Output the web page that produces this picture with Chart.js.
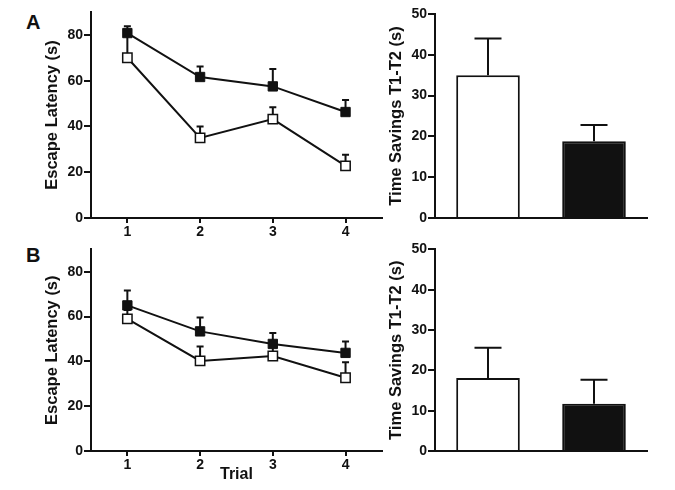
<!DOCTYPE html>
<html>
<head>
<meta charset="utf-8">
<script src="https://cdn.jsdelivr.net/npm/chart.js@4"></script>
<style>
  body { margin: 0; background: #fff; }
  #wrap { position: relative; width: 675px; height: 490px; background: #fff; }
  canvas { position: absolute; }
  .panel-letter { position: absolute; font: bold 20px "Liberation Sans", Arial, sans-serif; line-height: 20px; color: #111; }
</style>
</head>
<body>
<div id="wrap">
  <div class="panel-letter" style="left:26px; top:12px;">A</div>
  <div class="panel-letter" style="left:26px; top:245px;">B</div>
  <canvas id="lineA" width="390" height="240" style="left:0; top:0;"></canvas>
  <canvas id="barA" width="335" height="240" style="left:340px; top:0;"></canvas>
  <canvas id="lineB" width="390" height="250" style="left:0; top:240px;"></canvas>
  <canvas id="barB" width="335" height="250" style="left:340px; top:240px;"></canvas>
</div>
<script>
// data
const trials = [1, 2, 3, 4];
const latencyTicks = [0, 20, 40, 60, 80];
const savingsTicks = [0, 10, 20, 30, 40, 50];
const groups = ["Open", "Filled"];

const latencyA_filled = [80.8, 61.6, 57.5, 46.3];
const latencyA_filledErr = [3, 4.6, 7.6, 5.3];
const latencyA_open = [70, 35, 43.2, 22.8];
const latencyA_openErr = [10, 5, 5.2, 4.8];

const latencyB_filled = [65, 53.4, 47.8, 43.8];
const latencyB_filledErr = [6.7, 6.2, 4.9, 5.1];
const latencyB_open = [59, 40.2, 42.4, 32.7];
const latencyB_openErr = [4, 6.5, 4, 6.9];

const savingsA = [35, 18.8];
const savingsA_err = [9, 4];
const savingsB = [18.1, 11.7];
const savingsB_err = [7.5, 6];

const ink = "#111";
Chart.defaults.font.family = '"Liberation Sans", Arial, sans-serif';
Chart.defaults.font.weight = "bold";
Chart.defaults.color = ink;

// upward error bars, drawn under the markers/bars
const errorBars = {
  id: "errorBars",
  beforeDatasetsDraw(chart, args, opts) {
    const ctx = chart.ctx;
    const yScale = chart.scales.y;
    chart.data.datasets.forEach((ds, i) => {
      if (!ds.errors) return;
      const meta = chart.getDatasetMeta(i);
      ctx.save();
      ctx.strokeStyle = ink;
      ctx.lineWidth = 2;
      meta.data.forEach((el, j) => {
        const raw = ds.data[j];
        const val = typeof raw === "object" ? raw.y : raw;
        const yBase = yScale.getPixelForValue(val);
        const yTop = yScale.getPixelForValue(val + ds.errors[j]);
        const half = opts.capWidth / 2;
        ctx.beginPath();
        ctx.moveTo(el.x, yBase);
        ctx.lineTo(el.x, yTop);
        ctx.moveTo(el.x - half, yTop);
        ctx.lineTo(el.x + half, yTop);
        ctx.stroke();
      });
      ctx.restore();
    });
  }
};

function axisStyle(len) {
  return {
    border: { display: true, color: ink, width: 2 },
    grid: { drawOnChartArea: false, drawTicks: true, tickLength: len, color: ink, lineWidth: 2 }
  };
}

function lineChart(id, filled, filledErr, open, openErr, padTop, xHeight, showTrial) {
  const x = axisStyle(5);
  const y = axisStyle(7);
  new Chart(document.getElementById(id), {
    type: "line",
    data: {
      datasets: [
        {
          label: groups[1],
          data: trials.map((t, i) => ({ x: t, y: filled[i] })),
          errors: filledErr,
          borderColor: ink, borderWidth: 2,
          pointStyle: "rect", pointRadius: 6.6,
          pointBackgroundColor: ink, pointBorderColor: ink, pointBorderWidth: 1
        },
        {
          label: groups[0],
          data: trials.map((t, i) => ({ x: t, y: open[i] })),
          errors: openErr,
          borderColor: ink, borderWidth: 2,
          pointStyle: "rect", pointRadius: 6.6,
          pointBackgroundColor: "#fff", pointBorderColor: ink, pointBorderWidth: 1.5
        }
      ]
    },
    options: {
      responsive: false,
      animation: false,
      layout: { padding: { left: 35, top: padTop, right: 8, bottom: 0 } },
      plugins: { legend: { display: false }, tooltip: { enabled: false }, errorBars: { capWidth: 7 } },
      scales: {
        x: Object.assign(x, {
          type: "linear", min: 0.5, max: 4.5,
          afterBuildTicks: s => { s.ticks = trials.map(v => ({ value: v })); },
          afterFit: s => { s.height = xHeight; },
          ticks: { font: { size: 14 }, padding: 1 },
          title: { display: showTrial, text: "Trial", font: { size: 16 }, padding: { top: 0, bottom: 6 } }
        }),
        y: Object.assign(y, {
          min: 0, max: 90,
          afterBuildTicks: s => { s.ticks = latencyTicks.map(v => ({ value: v })); },
          afterFit: s => { s.width = 56; },
          ticks: { font: { size: 14 }, padding: 1 },
          title: { display: true, text: "Escape Latency (s)", font: { size: 16.5 }, padding: { top: 8, bottom: 0 } }
        })
      }
    },
    plugins: [errorBars]
  });
}

function barChart(id, values, errs, padTop, xHeight) {
  const y = axisStyle(7);
  new Chart(document.getElementById(id), {
    type: "bar",
    data: {
      labels: groups,
      datasets: [{
        data: values,
        errors: errs,
        backgroundColor: ["#fff", ink],
        borderColor: ink,
        borderWidth: 2,
        categoryPercentage: 1,
        barPercentage: 0.6
      }]
    },
    options: {
      responsive: false,
      animation: false,
      layout: { padding: { left: 39, top: padTop, right: 28, bottom: 0 } },
      plugins: { legend: { display: false }, tooltip: { enabled: false }, errorBars: { capWidth: 27 } },
      scales: {
        x: {
          border: { display: true, color: ink, width: 2 },
          grid: { display: false },
          ticks: { display: false },
          afterFit: s => { s.height = xHeight; }
        },
        y: Object.assign(y, {
          min: 0, max: 50,
          afterBuildTicks: s => { s.ticks = savingsTicks.map(v => ({ value: v })); },
          afterFit: s => { s.width = 56; },
          ticks: { font: { size: 14 }, padding: 1 },
          title: { display: true, text: "Time Savings T1-T2 (s)", font: { size: 16.5 }, padding: { top: 8, bottom: 0 } }
        })
      }
    },
    plugins: [errorBars]
  });
}

lineChart("lineA", latencyA_filled, latencyA_filledErr, latencyA_open, latencyA_openErr, 12, 22, false);
barChart("barA", savingsA, savingsA_err, 14, 22);
lineChart("lineB", latencyB_filled, latencyB_filledErr, latencyB_open, latencyB_openErr, 8, 39, true);
barChart("barB", savingsB, savingsB_err, 7, 39);
</script>
</body>
</html>
